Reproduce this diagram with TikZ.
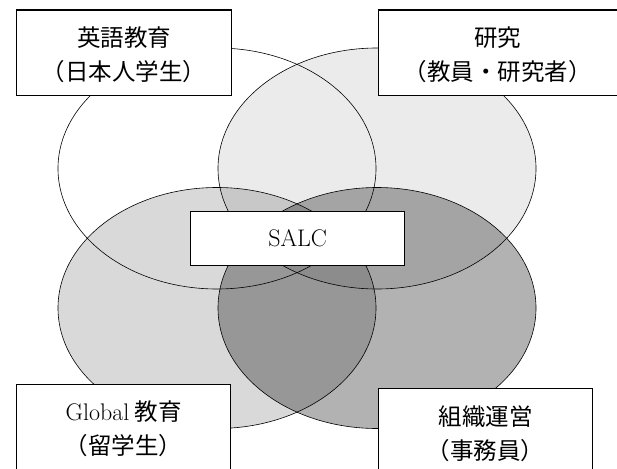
\documentclass[tikz,border=0pt]{standalone}
\usepackage{fontspec}
\newfontfamily\jpfont{Noto Sans CJK JP}
\begin{document}
\begin{tikzpicture}[x=1pt,y=-1pt,
  venn/.style={draw=black, line width=0.6pt},
  vennfill/.style={fill=black, fill opacity=#1},
  box/.style={draw=black, line width=1.3pt, fill=white, inner sep=0pt, anchor=north west},
  lbl/.style={align=center, inner sep=0pt, font=\fontsize{23.5pt}{34pt}\selectfont\jpfont},
  latin/.style={inner sep=0pt, font=\fontsize{24pt}{28pt}\selectfont\rmfamily}]
\useasboundingbox (0,0) rectangle (617,468);
% ellipse centres
\coordinate (eTL) at (217,168.5);
\coordinate (eTR) at (377,168.5);
\coordinate (eBL) at (217,308);
\coordinate (eBR) at (377,308);
% fills (multiplying greys)
\fill[vennfill=0.08] (eTR) ellipse [x radius=159, y radius=120.5];
\fill[vennfill=0.15] (eBL) ellipse [x radius=159, y radius=120.5];
\fill[vennfill=0.30] (eBR) ellipse [x radius=159, y radius=120.5];
% outlines
\draw[venn] (eTL) ellipse [x radius=159, y radius=120.5];
\draw[venn] (eTR) ellipse [x radius=159, y radius=120.5];
\draw[venn] (eBL) ellipse [x radius=159, y radius=120.5];
\draw[venn] (eBR) ellipse [x radius=159, y radius=120.5];
% boxes
\node[box, minimum width=214.7pt, minimum height=85.7pt] (tl) at (16,9.3) {};
\node[box, minimum width=238.5pt, minimum height=85.7pt] (tr) at (378,9.3) {};
\node[box, minimum width=214pt, minimum height=100pt] (bl) at (16,384) {};
\node[box, minimum width=214pt, minimum height=100pt] (br) at (378,388) {};
\node[box, minimum width=214pt, minimum height=54pt] (salc) at (190,211) {};
% texts
\node[lbl] (tltext) at ([yshift=-45.7pt]tl.north) {英語教育\\（日本人学生）};
\node[lbl] (trtext) at ([yshift=-45.7pt]tr.north) {研究\\（教員・研究者）};
\node[lbl] (bltext) at ([yshift=-45pt]bl.north) {{\fontsize{24pt}{34pt}\selectfont\rmfamily Global} 教育\\（留学生）};
\node[lbl] (brtext) at ([yshift=-45.5pt]br.north) {組織運営\\（事務員）};
\node[latin] (salctext) at (salc.center) {SALC};
\end{tikzpicture}
\end{document}
